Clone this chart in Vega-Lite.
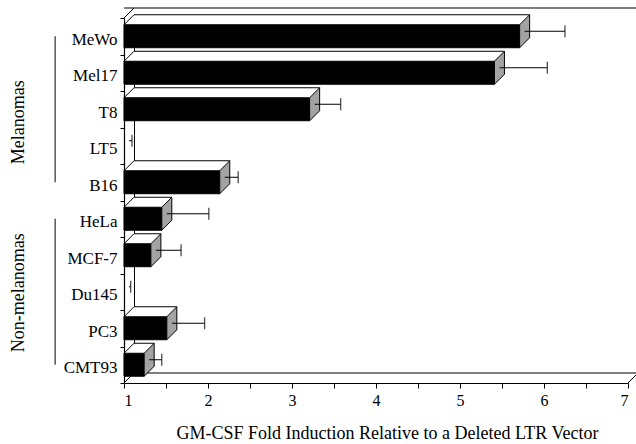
{
  "$schema": "https://vega.github.io/schema/vega-lite/v6.json",
  "width": 504,
  "height": 365,
  "autosize": {"type": "none"},
  "padding": {"left": 124, "top": 18, "right": 8, "bottom": 61},
  "background": "white",
  "config": {"view": {"stroke": null}, "font": "Liberation Serif"},
  "datasets": {
    "cells": [
      {"line": "MeWo", "fold": 5.71, "upper": 6.19},
      {"line": "Mel17", "fold": 5.41, "upper": 5.98},
      {"line": "T8", "fold": 3.21, "upper": 3.52},
      {"line": "LT5", "fold": 1.0, "upper": 1.036},
      {"line": "B16", "fold": 2.14, "upper": 2.30},
      {"line": "HeLa", "fold": 1.45, "upper": 1.95},
      {"line": "MCF-7", "fold": 1.32, "upper": 1.62},
      {"line": "Du145", "fold": 1.0, "upper": 1.02},
      {"line": "PC3", "fold": 1.51, "upper": 1.90},
      {"line": "CMT93", "fold": 1.24, "upper": 1.39}
    ],
    "groups": [
      {"group": "Melanomas", "first": "MeWo", "last": "B16", "mid": "T8"},
      {"group": "Non-melanomas", "first": "HeLa", "last": "CMT93", "mid": "Du145"}
    ],
    "frame": [{"edge": "wall"}]
  },
  "layer": [
    {
      "data": {"name": "cells"},
      "mark": {"type": "line", "color": "black", "strokeWidth": 1, "xOffset": 10.5, "yOffset": -10},
      "encoding": {
        "x": {"datum": 1, "type": "quantitative"},
        "y": {"field": "line", "type": "nominal"}
      }
    },
    {
      "data": {"name": "frame"},
      "mark": {"type": "rule", "color": "black", "strokeWidth": 1.2, "xOffset": 10, "x2Offset": 10, "yOffset": -28.25},
      "encoding": {
        "y": {"datum": "MeWo", "type": "nominal"}
      }
    },
    {
      "data": {"name": "frame"},
      "mark": {"type": "rule", "color": "black", "strokeWidth": 1.2, "xOffset": 10, "x2Offset": 10, "yOffset": 8.25},
      "encoding": {
        "y": {"datum": "CMT93", "type": "nominal"}
      }
    },
    {
      "data": {"name": "frame"},
      "mark": {"type": "point", "shape": "M0,0L10,-10", "size": 4, "filled": false, "stroke": "black", "strokeWidth": 1, "opacity": 1, "yOffset": -18.25},
      "encoding": {
        "x": {"datum": 1, "type": "quantitative"},
        "y": {"datum": "MeWo", "type": "nominal"}
      }
    },
    {
      "data": {"name": "frame"},
      "mark": {"type": "point", "shape": "M0,0L10,-10", "size": 4, "filled": false, "stroke": "black", "strokeWidth": 1, "opacity": 1, "yOffset": 18.25},
      "encoding": {
        "x": {"datum": 1, "type": "quantitative"},
        "y": {"datum": "CMT93", "type": "nominal"}
      }
    },
    {
      "data": {"name": "frame"},
      "mark": {"type": "point", "shape": "M0,0L10,-10", "size": 4, "filled": false, "stroke": "black", "strokeWidth": 1, "opacity": 1, "yOffset": 18.25},
      "encoding": {
        "x": {"datum": 7, "type": "quantitative"},
        "y": {"datum": "CMT93", "type": "nominal"}
      }
    },
    {
      "data": {"name": "cells"},
      "transform": [{"filter": "datum.fold > 1"}],
      "mark": {"type": "bar", "fill": "white", "strokeWidth": 0, "xOffset": 10, "x2Offset": 10, "yOffset": -10, "y2Offset": -10, "height": {"band": 0.63}},
      "encoding": {
        "x": {"field": "fold", "type": "quantitative"},
        "x2": {"datum": 1},
        "y": {"field": "line", "type": "nominal"}
      }
    },
    {
      "data": {"name": "cells"},
      "transform": [{"filter": "datum.fold > 1"}],
      "mark": {"type": "point", "shape": "M0,-11.5L10,-21.5", "size": 4, "filled": false, "stroke": "black", "strokeWidth": 1, "opacity": 1},
      "encoding": {
        "x": {"datum": 1, "type": "quantitative"},
        "y": {"field": "line", "type": "nominal"}
      }
    },
    {
      "data": {"name": "cells"},
      "transform": [{"filter": "datum.fold > 1"}],
      "mark": {"type": "rule", "color": "black", "strokeWidth": 1, "xOffset": 10, "x2Offset": 10, "yOffset": -21.5},
      "encoding": {
        "x": {"field": "fold", "type": "quantitative"},
        "x2": {"datum": 1},
        "y": {"field": "line", "type": "nominal"}
      }
    },
    {
      "data": {"name": "cells"},
      "transform": [{"filter": "datum.fold > 1"}],
      "mark": {"type": "bar", "fill": "black", "stroke": "black", "strokeWidth": 1, "height": {"band": 0.63}},
      "encoding": {
        "x": {
          "field": "fold", "type": "quantitative",
          "scale": {"domain": [1, 7], "nice": false, "zero": false},
          "axis": {
            "title": "GM-CSF Fold Induction Relative to  a Deleted LTR Vector",
            "values": [1, 1.5, 2, 2.5, 3, 3.5, 4, 4.5, 5, 5.5, 6, 6.5, 7],
            "labelExpr": "datum.value % 1 === 0 ? format(datum.value, 'd') : ''",
            "grid": false, "domainColor": "black", "domainWidth": 1.2,
            "tickColor": "black", "tickSize": 5, "labelColor": "black",
            "labelFont": "Liberation Serif", "labelFontSize": 16, "labelPadding": 4,
            "titleFont": "Liberation Serif", "titleFontSize": 18, "titleFontWeight": "normal",
            "titleColor": "black", "titleX": 263, "titleY": 55, "titleBaseline": "alphabetic"
          }
        },
        "x2": {"datum": 1},
        "y": {
          "field": "line", "type": "nominal",
          "scale": {"domain": ["MeWo", "Mel17", "T8", "LT5", "B16", "HeLa", "MCF-7", "Du145", "PC3", "CMT93"], "paddingInner": 0, "paddingOuter": 0},
          "axis": {
            "title": null, "grid": false, "domainColor": "black", "domainWidth": 1.2,
            "tickColor": "black", "tickSize": 4, "tickBand": "extent",
            "labelColor": "black", "labelFont": "Liberation Serif", "labelFontSize": 17,
            "labelPadding": 3, "labelOffset": 3
          }
        }
      }
    },
    {
      "data": {"name": "cells"},
      "transform": [{"filter": "datum.fold > 1"}],
      "mark": {"type": "point", "shape": "M0,-11.5L10,-21.5L10,1.5L0,11.5Z", "size": 4, "filled": true, "fill": "#a3a3a3", "stroke": "black", "strokeWidth": 1, "opacity": 1},
      "encoding": {
        "x": {"field": "fold", "type": "quantitative"},
        "y": {"field": "line", "type": "nominal"}
      }
    },
    {
      "data": {"name": "cells"},
      "mark": {"type": "rule", "color": "black", "strokeWidth": 1, "xOffset": 5, "x2Offset": 5, "yOffset": -5},
      "encoding": {
        "x": {"field": "fold", "type": "quantitative"},
        "x2": {"field": "upper"},
        "y": {"field": "line", "type": "nominal"}
      }
    },
    {
      "data": {"name": "cells"},
      "mark": {"type": "tick", "color": "black", "orient": "vertical", "size": 12, "thickness": 1.3, "xOffset": 5, "yOffset": -5},
      "encoding": {
        "x": {"field": "upper", "type": "quantitative"},
        "y": {"field": "line", "type": "nominal"}
      }
    },
    {
      "data": {"name": "groups"},
      "transform": [{"fold": ["first", "last"], "as": ["end", "member"]}],
      "mark": {"type": "line", "color": "black", "strokeWidth": 1},
      "encoding": {
        "x": {"datum": 0.18, "type": "quantitative"},
        "y": {"field": "member", "type": "nominal"},
        "detail": {"field": "group", "type": "nominal"}
      }
    },
    {
      "data": {"name": "groups"},
      "transform": [{"filter": "datum.group === 'Melanomas'"}],
      "mark": {"type": "text", "angle": 270, "align": "center", "baseline": "middle", "font": "Liberation Serif", "fontSize": 18, "color": "black", "yOffset": 13},
      "encoding": {
        "x": {"datum": -0.25, "type": "quantitative"},
        "y": {"field": "mid", "type": "nominal"},
        "text": {"field": "group", "type": "nominal"}
      }
    },
    {
      "data": {"name": "groups"},
      "transform": [{"filter": "datum.group === 'Non-melanomas'"}],
      "mark": {"type": "text", "angle": 270, "align": "center", "baseline": "middle", "font": "Liberation Serif", "fontSize": 18, "color": "black", "yOffset": 1},
      "encoding": {
        "x": {"datum": -0.25, "type": "quantitative"},
        "y": {"field": "mid", "type": "nominal"},
        "text": {"field": "group", "type": "nominal"}
      }
    }
  ]
}
